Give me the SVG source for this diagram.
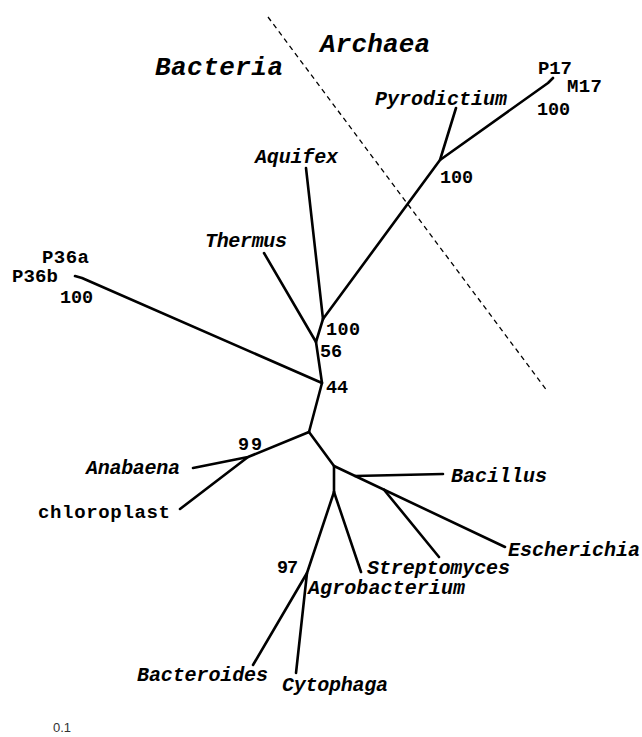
<svg xmlns="http://www.w3.org/2000/svg" width="642" height="737" viewBox="0 0 642 737">
<style>
.br{stroke:#000;stroke-width:2.6;fill:none;stroke-linecap:round;stroke-linejoin:round}
.dash{stroke:#000;stroke-width:1.3;fill:none;stroke-dasharray:5,4}
.t{font-family:"Liberation Mono","Courier New",monospace;font-weight:bold;fill:#000}
.it{font-style:italic;font-size:20px}
.up{font-size:19px}
.num{font-size:18.5px}
.big{font-family:"Liberation Mono","Courier New",monospace;font-weight:bold;font-style:italic;font-size:26px;fill:#000}
.sc{font-family:"Liberation Sans",Arial,sans-serif;font-size:13px;fill:#333}
</style>
<rect width="642" height="737" fill="#fff"/>
<g id="connectors">
<line class="dash" x1="268" y1="17" x2="548" y2="392"/>
<path class="br" d="M323,319 L440,160 L456,108"/>
<path class="br" d="M440,160 L548,83 L553,78"/>
<path class="br" d="M306,168 L323,319"/>
<path class="br" d="M264,253 L316,342 L323,319"/>
<path class="br" d="M75,276 L82,278 L322,383 L316,342"/>
<path class="br" d="M322,383 L309,432"/>
<path class="br" d="M309,432 L248,457 L193,468"/>
<path class="br" d="M248,457 L180,509"/>
<path class="br" d="M309,432 L334,466 L334,492"/>
<path class="br" d="M334,466 L505,547"/>
<path class="br" d="M355,476 L443,474"/>
<path class="br" d="M384,489.7 L439,557"/>
<path class="br" d="M334,492 L361,572"/>
<path class="br" d="M334,492 L307,573 L253,665"/>
<path class="br" d="M307,573 L296,673"/>
</g>
<g id="region-labels">
<text class="big" x="320" y="52" textLength="110">Archaea</text>
<text class="big" x="155" y="75" textLength="128">Bacteria</text>
</g>
<g id="archaea">
<text class="t up" x="538" y="74" textLength="34">P17</text>
<text class="t up" x="567" y="92" textLength="35">M17</text>
<text class="t num" x="537" y="115" textLength="33">100</text>
<text class="t it" x="375" y="105" textLength="132">Pyrodictium</text>
<text class="t num" x="440" y="183" textLength="33">100</text>
</g>
<g id="node-aquifex"><text class="t it" x="255" y="163" textLength="83">Aquifex</text></g>
<g id="node-thermus"><text class="t it" x="205" y="247" textLength="82">Thermus</text></g>
<g id="node-p36">
<text class="t up" x="42" y="263" textLength="47">P36a</text>
<text class="t up" x="12" y="282" textLength="46">P36b</text>
<text class="t num" x="60" y="303" textLength="33">100</text>
</g>
<g id="bootstrap">
<text class="t num" x="326" y="335" textLength="34">100</text>
<text class="t num" x="320" y="357" textLength="22">56</text>
<text class="t num" x="326" y="393" textLength="22">44</text>
<text class="t num" x="238" y="450" textLength="24">99</text>
<text class="t num" x="277" y="573" textLength="21">97</text>
</g>
<g id="node-anabaena"><text class="t it" x="86" y="474" textLength="94">Anabaena</text></g>
<g id="node-chloroplast"><text class="t up" x="38" y="518" font-size="20" textLength="132">chloroplast</text></g>
<g id="node-bacillus"><text class="t it" x="451" y="482" textLength="96">Bacillus</text></g>
<g id="node-escherichia"><text class="t it" x="508" y="556" textLength="132">Escherichia</text></g>
<g id="node-streptomyces"><text class="t it" x="367" y="574" textLength="143">Streptomyces</text></g>
<g id="node-agrobacterium"><text class="t it" x="308" y="594" textLength="157">Agrobacterium</text></g>
<g id="node-bacteroides"><text class="t it" x="137" y="681" textLength="131">Bacteroides</text></g>
<g id="node-cytophaga"><text class="t it" x="282" y="691" textLength="106">Cytophaga</text></g>
<g id="scale"><text class="sc" x="53" y="732">0.1</text></g>
</svg>
